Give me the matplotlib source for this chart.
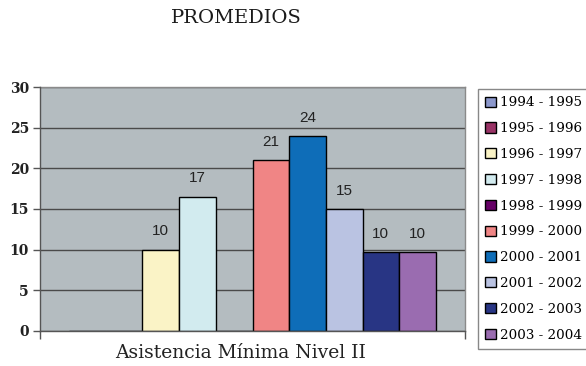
import numpy as np
import matplotlib
matplotlib.use("Agg")
import matplotlib.pyplot as plt

# datos
periodos = ["1994 - 1995", "1995 - 1996", "1996 - 1997", "1997 - 1998", "1998 - 1999",
            "1999 - 2000", "2000 - 2001", "2001 - 2002", "2002 - 2003", "2003 - 2004"]
valores = [0, 0, 10, 16.5, 0, 21, 24, 15, 9.7, 9.7]
colores = ["#8c98cc", "#993366", "#faf3c6", "#d2ebef", "#660066",
           "#f08585", "#0e6db8", "#bac3e2", "#283584", "#9a6cb0"]
categoria = "Asistencia Mínima Nivel II"
yticks = [0, 5, 10, 15, 20, 25, 30]

fig = plt.figure(figsize=(5.86, 3.66), dpi=100)
ax = fig.add_axes([40 / 586, 1 - 330.7 / 366, 425 / 586, 243.4 / 366])
ax.set_facecolor("#b4bcc0")

ancho = 0.0863
n = len(valores)
for i, (v, c, p) in enumerate(zip(valores, colores, periodos)):
    x = (i - (n - 1) / 2) * ancho
    ax.bar(x, v, width=ancho, color=c, edgecolor="black", linewidth=1.0, label=p, zorder=3)
    if v > 0:
        ax.text(x, v + 1.4, str(int(np.floor(v + 0.5))), ha="center", va="bottom",
                fontsize=11, family="Liberation Sans", color="#222222", zorder=4)

ax.set_xlim(-0.5, 0.5)
ax.set_ylim(0, 30)
ax.set_yticks(yticks)
ax.set_yticklabels([str(t) for t in yticks], fontsize=10, family="DejaVu Serif",
                   fontweight="bold", color="#222222")
ax.set_xticks([-0.5, 0.5])
ax.set_xticklabels(["", ""])
ax.tick_params(axis="y", length=5, width=1, color="#555555", pad=3)
ax.tick_params(axis="x", length=6, width=1, color="#555555")
ax.yaxis.grid(True, color="#4a4a4a", linewidth=1.0, zorder=0)
ax.set_axisbelow(True)

for s in ["left", "bottom"]:
    ax.spines[s].set_color("#555555")
    ax.spines[s].set_linewidth(1.0)
    ax.spines[s].set_zorder(5)
for s in ["top", "right"]:
    ax.spines[s].set_color("#8a8a8a")
    ax.spines[s].set_linewidth(1.0)

fig.text(236.7 / 586, 1 - 17.7 / 366, "PROMEDIOS", ha="center", va="center",
         fontsize=14, family="DejaVu Serif", color="#1a1a1a")
fig.text(241 / 586, 1 - 353 / 366, categoria, ha="center", va="center",
         fontsize=13.5, family="DejaVu Serif", color="#222222")

leg = ax.legend(loc="upper left", bbox_to_anchor=(478 / 586, 1 - 89 / 366),
                bbox_transform=fig.transFigure,
                prop={"family": "DejaVu Serif", "size": 9.7},
                handlelength=0.8, handleheight=0.8, handletextpad=0.3,
                labelspacing=0.95, borderpad=0.55, borderaxespad=0,
                frameon=True, fancybox=False, framealpha=1)
leg.get_frame().set_edgecolor("#888888")
leg.get_frame().set_linewidth(1.0)

fig.savefig("out.png", dpi=100)
